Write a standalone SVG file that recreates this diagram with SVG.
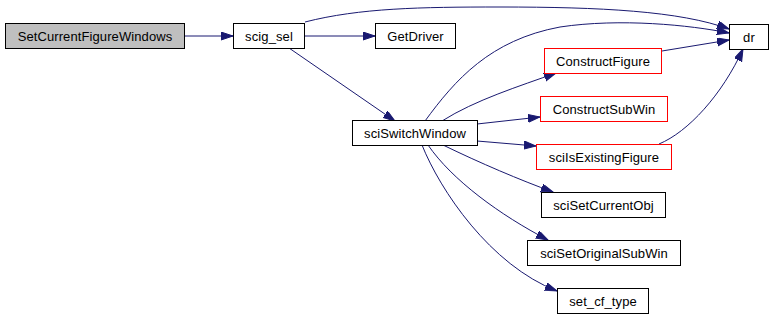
<svg xmlns="http://www.w3.org/2000/svg" width="773" height="317" viewBox="0 0 773 317">
<style>
.n rect{fill:#fff;stroke:#000;stroke-width:1}
.n.red rect{stroke:#ff0000}
.n.root rect{fill:#bfbfbf}
.n text{font-family:"Liberation Sans",Arial,sans-serif;font-size:13px;fill:#000;text-anchor:middle;letter-spacing:0.1px}
#edges path{fill:none;stroke:#191970;stroke-width:1;marker-end:url(#ah)}
</style>
<defs>
<marker id="ah" markerUnits="userSpaceOnUse" markerWidth="13" markerHeight="9" refX="12" refY="4" orient="auto">
<path d="M0,0 L12,4 L0,8 z" fill="#191970" stroke="#191970"/>
</marker>
</defs>
<rect width="773" height="317" fill="#fff"/>
<g id="edges">
<path d="M184.5,36 L233,36"/>
<path d="M304.5,36 L375,36"/>
<path d="M289,48 L395,121"/>
<path d="M305,22 C360,8 420,7 500,7 C600,7 680,11 729,29"/>
<path d="M425,121 C455,80 490,40 560,27 C620,18 690,25 729,33"/>
<path d="M662,51 L729,40"/>
<path d="M442,121 C475,100 520,86 556,73"/>
<path d="M477,124 L540,117"/>
<path d="M477,141 L536,146"/>
<path d="M659,144 C688,132 722,95 743,49"/>
<path d="M443,145 C480,163 520,180 553,192"/>
<path d="M428,145 C452,180 500,215 548,240"/>
<path d="M422,145 C440,190 490,265 557,291"/>
</g>
<g id="n_SetCurrentFigureWindows" class="n root"><rect x="5.5" y="23.5" width="179" height="25"/><text x="95" y="40.5">SetCurrentFigureWindows</text></g>
<g id="n_scig_sel" class="n"><rect x="233.5" y="23.5" width="71" height="25"/><text x="269" y="40.5">scig_sel</text></g>
<g id="n_GetDriver" class="n"><rect x="375.5" y="23.5" width="80" height="25"/><text x="415.5" y="40.5">GetDriver</text></g>
<g id="n_dr" class="n"><rect x="729.5" y="24.5" width="39" height="25"/><text x="749" y="41.5">dr</text></g>
<g id="n_sciSwitchWindow" class="n"><rect x="352.5" y="120.5" width="125" height="25"/><text x="415" y="137.5">sciSwitchWindow</text></g>
<g id="n_ConstructFigure" class="n red"><rect x="544.5" y="48.5" width="117" height="25"/><text x="603" y="65.5">ConstructFigure</text></g>
<g id="n_ConstructSubWin" class="n red"><rect x="540.5" y="96.5" width="127" height="25"/><text x="604" y="113.5">ConstructSubWin</text></g>
<g id="n_sciIsExistingFigure" class="n red"><rect x="536.5" y="144.5" width="135" height="25"/><text x="604" y="161.5">sciIsExistingFigure</text></g>
<g id="n_sciSetCurrentObj" class="n"><rect x="541.5" y="192.5" width="124" height="25"/><text x="603.5" y="209.5">sciSetCurrentObj</text></g>
<g id="n_sciSetOriginalSubWin" class="n"><rect x="527.5" y="240.5" width="153" height="25"/><text x="604" y="257.5">sciSetOriginalSubWin</text></g>
<g id="n_set_cf_type" class="n"><rect x="557.5" y="288.5" width="91" height="25"/><text x="603" y="305.5">set_cf_type</text></g>
</svg>
